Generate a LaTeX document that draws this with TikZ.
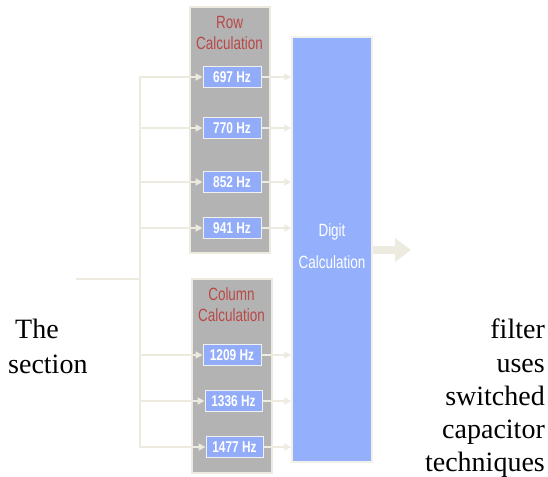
\documentclass[tikz,border=0pt]{standalone}
\usepackage{fontspec}
\setmainfont{Liberation Serif}
\newfontfamily\hfont{Liberation Sans}
\usepackage{tikz}
\usetikzlibrary{arrows.meta}
\usetikzlibrary{calc}

\definecolor{panelgray}{RGB}{179,179,179}
\definecolor{filterblue}{RGB}{146,172,250}
\definecolor{digitblue}{RGB}{148,175,252}
\definecolor{wirecream}{RGB}{237,235,224}
\definecolor{titlered}{RGB}{185,72,72}
\newcommand{\tall}[1]{\scalebox{0.95}[1.25]{#1}}

\begin{document}
\begin{tikzpicture}[x=1pt,y=-1pt,inner sep=0pt,
  panel/.style={draw=wirecream,line width=1.5pt,fill=panelgray},
  filt/.style={draw=white!88!gray,line width=1pt,fill=filterblue,minimum width=58pt,minimum height=21pt,text=white,font=\hfont\bfseries\fontsize{12.5}{14}\selectfont},
  ttl/.style={align=center,text=titlered,font=\hfont\fontsize{14.2}{21}\selectfont},
  txt/.style={font=\fontsize{28}{33}\selectfont},
  wire/.style={draw=wirecream,line width=2.5pt},
  feed/.style={wire,-{Triangle[length=7pt,width=7pt]}}]
\useasboundingbox (0,0) rectangle (548,476);
\node [panel,minimum width=80pt,minimum height=246pt] (rowpanel) at (230,130) {};
\node [panel,minimum width=80pt,minimum height=194pt] (colpanel) at (232,376) {};
\node [panel,draw=wirecream!70!white,fill=digitblue,minimum width=80pt,minimum height=425pt] (digit) at (332,249.5) {};
\node [ttl] (rowtitle) at (229.5,32.5) {\tall{Row}\\\tall{Calculation}};
\node [ttl] (coltitle) at (231.5,305) {\tall{Column}\\\tall{Calculation}};
\node [ttl,text=white,font=\hfont\fontsize{14.2}{32}\selectfont] (digittitle) at (332,246) {\tall{Digit}\\\tall{Calculation}};
\node [filt] (f697) at (232,77) {\tall{697 Hz}};
\node [filt] (f770) at (232,128) {\tall{770 Hz}};
\node [filt] (f852) at (232,182) {\tall{852 Hz}};
\node [filt] (f941) at (232,228) {\tall{941 Hz}};
\node [filt] (f1209) at (232,355) {\tall{1209 Hz}};
\node [filt,minimum width=57pt] (f1336) at (233.5,401) {\tall{1336 Hz}};
\node [filt,minimum width=57pt] (f1477) at (234.5,447) {\tall{1477 Hz}};
\coordinate (in) at (76,279);
\coordinate (bus) at (140,279);
\coordinate (out) at (411,250);
\draw [wire] (in) -- (bus);
\draw [feed] (bus) |- (f697);
\draw [feed] (bus) |- (f770);
\draw [feed] (bus) |- (f852);
\draw [feed] (bus) |- (f941);
\draw [feed] (bus) |- (f1209);
\draw [feed] (bus) |- (f1336);
\draw [feed] (bus) |- (f1477);
\draw [feed] (f697) -- (f697 -| digit.west);
\draw [feed] (f770) -- (f770 -| digit.west);
\draw [feed] (f852) -- (f852 -| digit.west);
\draw [feed] (f941) -- (f941 -| digit.west);
\draw [feed] (f1209) -- (f1209 -| digit.west);
\draw [feed] (f1336) -- (f1336 -| digit.west);
\draw [feed] (f1477) -- (f1477 -| digit.west);
\draw [wire,line width=8pt,-{Triangle[length=16pt,width=23pt]}] (digit.east |- out) -- (out);
\node [txt,anchor=base west] (the) at (15,338) {The};
\node [txt,anchor=base west] (section) at (8,373) {section};
\node [txt,anchor=base east] (filter) at (545,338) {filter};
\node [txt,anchor=base east] (uses) at (545,372) {uses};
\node [txt,anchor=base east] (switched) at (545,405) {switched};
\node [txt,anchor=base east] (capacitor) at (545,438) {capacitor};
\node [txt,anchor=base east] (techniques) at (545,471) {techniques};
\end{tikzpicture}
\end{document}
